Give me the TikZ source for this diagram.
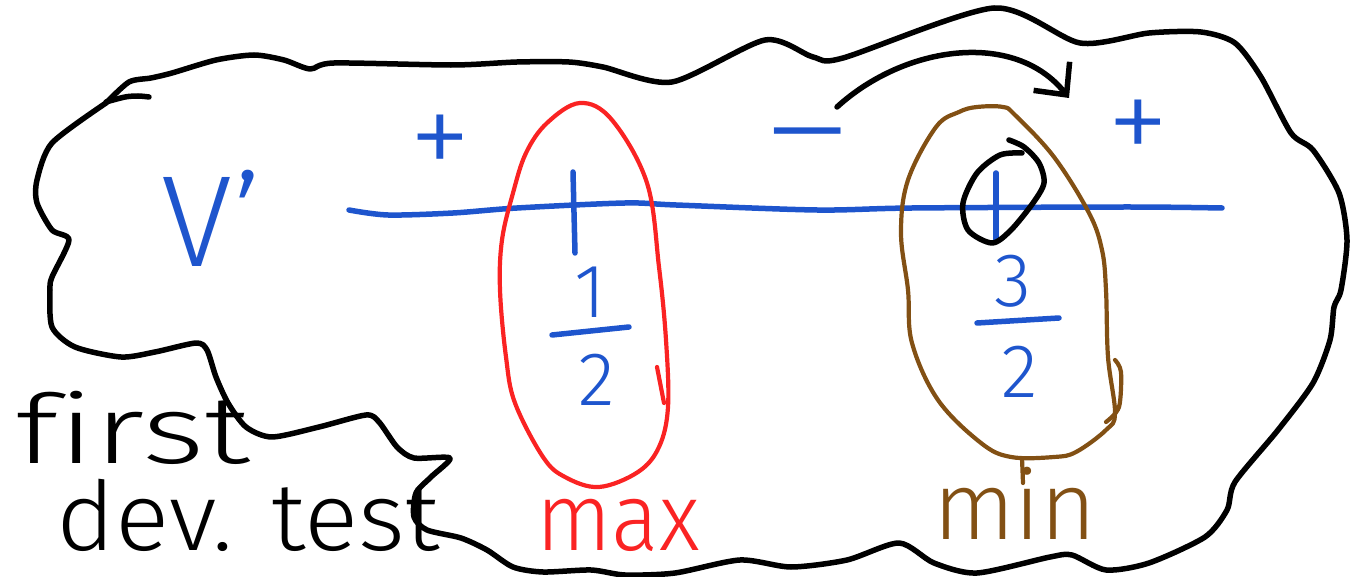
\documentclass[tikz,border=0pt]{standalone}
\usepackage{fontspec}
\setmainfont{Fira Sans Light}
\usetikzlibrary{arrows.meta}
\definecolor{signblue}{RGB}{30,85,205}
\definecolor{maxred}{RGB}{250,35,35}
\definecolor{minbrown}{RGB}{130,80,20}
\tikzset{
    ink/.style = {line width=5.5pt, line cap=round, line join=round},
    % Strokes
    outline/.style  = {ink, draw=black},
    axis/.style     = {ink, draw=signblue},
    fracbar/.style  = {ink, draw=signblue},
    maxring/.style  = {ink, draw=maxred, line width=4.2pt},
    minring/.style  = {ink, draw=minbrown, line width=4.2pt},
    ring/.style     = {ink, draw=black},
    arrow/.style    = {ink, -{Straight Barb[length=24pt, width=46pt, line width=5.5pt]}},
    % Texts
    sign/.style     = {text=signblue, inner sep=0pt, font=\fontsize{125}{125}\selectfont},
    frac/.style     = {text=signblue, inner sep=0pt, font=\fontsize{76}{76}\selectfont},
    note/.style     = {inner sep=0pt, font=\fontsize{96}{96}\selectfont}
}
\begin{document}
\begin{tikzpicture}[x=1pt, y=-1pt]
    \useasboundingbox (0,0) rectangle (1350,577);

    % Cloud round everything
    \draw [outline] plot[smooth, tension=0.45] coordinates {
        (106,103) (129,82) (151,78) (172,73) (216,60) (254,55) (284,60) (310,69)
        (334,63) (453,65) (517,62) (569,62) (603,67) (672,82) (765,40) (813,57)
        (843,58) (994,8) (1080,43) (1149,33) (1201,32) (1235,43) (1261,77)
        (1291,133) (1313,150) (1339,193) (1347,240) (1341,290) (1334,307)
        (1330,340) (1313,383) (1278,430) (1235,482) (1227,510) (1205,537)
        (1149,563) (1106,570) (1072,555) (1050,557) (977,573) (934,563)
        (899,543) (847,560) (791,567) (740,560) (675,573) (625,575) (591,570)
        (543,572) (513,567) (487,550) (461,538) (427,530) (414,517) (416,493)
        (431,477) (450,458) (414,458) (397,447) (379,422) (366,415) (319,427)
        (272,437) (246,427) (228,403) (216,377) (207,350) (196,343) (155,352)
        (121,357) (75,347) (52,327) (50,290) (52,277) (69,240) (52,230)
        (37,203) (37,180) (52,143) (106,103)};
    \draw [outline] plot[smooth] coordinates {(106,102) (125,97) (138,96) (149,97)};

    % Sign line
    \node (vprime) [sign, font=\fontsize{130}{130}\selectfont] at (212,218) {V'};
    \draw [axis] plot[smooth] coordinates {
        (349,210) (388,215) (453,213) (517,208) (625,203) (676,205)
        (817,210) (912,208) (1128,207) (1222,208)};
    \draw [axis] (573,172) -- (575,253);
    \draw [axis] (996,173) -- (996,240);

    \node (plusleft) [sign] at (440,147) {+};
    \node (minus) [sign] at (808,150) {\scalebox{1.5}[1]{−}};
    \node (plusright) [sign] at (1138,132) {+};

    \node (halfnum) [frac] at (590,292) {1};
    \draw [fracbar] (552,335) -- (629,327);
    \node (halfden) [frac] at (597,380) {2};

    \node (threenum) [frac] at (1013,281) {3};
    \draw [fracbar] (977,323) -- (1059,318);
    \node (threeden) [frac] at (1020,372) {2};

    % Max ring
    \draw [maxring] plot[smooth cycle, tension=0.6] coordinates {
        (580,103) (612,120) (647,183) (659,267) (666,340) (668,407) (659,447)
        (638,472) (599,487) (565,477) (543,457) (515,403) (506,357) (500,290)
        (502,240) (513,193) (526,153) (547,123)};
    \draw [maxring] (657,367) -- (664,403);
    \node (max) [note, text=maxred] at (618,525) {\scalebox{0.92}[1]{max}};

    % Min ring
    \draw [minring] plot[smooth cycle, tension=0.6] coordinates {
        (977,107) (1003,107) (1015,115) (1054,157) (1089,213) (1102,250)
        (1106,290) (1108,357) (1115,413) (1106,430) (1076,452) (1054,457)
        (1011,457) (981,443) (938,400) (912,343) (908,290) (901,233)
        (908,180) (936,127) (959,112)};
    \draw [minring] plot[smooth] coordinates {(1115,360) (1121,372) (1119,407) (1106,422)};
    \draw [minring] (1022,458) -- (1023,483);
    \node (min) [note, text=minbrown] at (1015,503) {min};

    % Black ring on the 3/2 tick
    \draw [ring] plot[smooth] coordinates {
        (1022,153) (1000,155) (977,173) (963,203) (968,230) (992,243)
        (1011,230) (1033,203) (1044,183) (1039,163) (1024,147) (1009,140)};

    % Sign change arrow
    \coordinate (arrstart) at (837,107);
    \coordinate (arrend) at (1069,98);
    \draw [arrow] (arrstart) .. controls (905,45) and (1015,30) .. (arrend);

    % Caption
    \node (first) [note] at (133,428) {\scalebox{1.4}[1]{f\kern0pt irst}};
    \node (devtest) [note] at (248,515) {\scalebox{1.05}[1]{dev. test}};
\end{tikzpicture}
\end{document}
